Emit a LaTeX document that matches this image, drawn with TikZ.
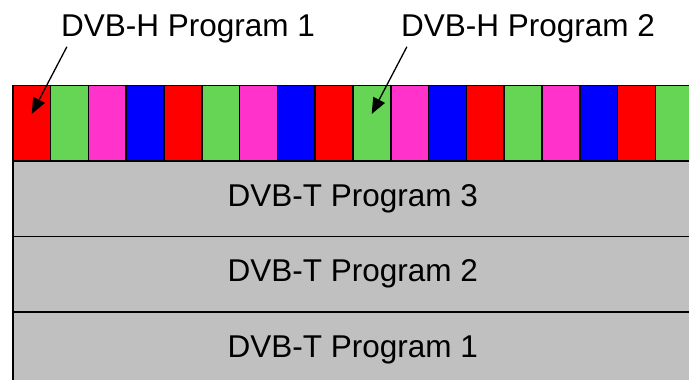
\documentclass[tikz,border=0pt]{standalone}
\usepackage{fontspec}
\setmainfont{Liberation Sans}
\usetikzlibrary{arrows.meta,positioning}
\definecolor{slotred}{HTML}{FF0000}
\definecolor{slotgreen}{HTML}{66D455}
\definecolor{slotpink}{HTML}{FF33CC}
\definecolor{slotblue}{HTML}{0000FF}
\definecolor{bandgray}{HTML}{C0C0C0}

\begin{document}
\begin{tikzpicture}[x=1pt,y=-1pt,>={Triangle[length=16pt,width=13pt]},
    font=\fontsize{31.5}{36}\selectfont,
    slot/.style={draw,line width=1.6pt,minimum width=37.8pt,minimum height=75.5pt,
      inner sep=0pt,anchor=north west},
    band/.style={draw,fill=bandgray,line width=1.6pt,minimum width=680pt,
      minimum height=75.5pt,inner sep=0pt,anchor=north west},
    lbl/.style={inner sep=0pt,anchor=base}]
  \useasboundingbox (0,0) rectangle (689,380);
  \clip (0,0) rectangle (689,380);
  \foreach \k/\n in {0/3,1/2,2/1}
    \node[band] (t\n) at (12,{160+75.5*\k}) {DVB-T Program \n};
  \foreach \i/\c in {0/slotred,1/slotgreen,2/slotpink,3/slotblue,
      4/slotred,5/slotgreen,6/slotpink,7/slotblue,
      8/slotred,9/slotgreen,10/slotpink,11/slotblue,
      12/slotred,13/slotgreen,14/slotpink,15/slotblue,
      16/slotred,17/slotgreen}
    \node[slot,fill=\c] (s\i) at ({12+37.8*\i},84.5) {};
  \node[lbl] (hA) at (188,36) {DVB-H Program 1};
  \node[lbl] (hB) at (528,36) {DVB-H Program 2};
  \coordinate (pA) at (31.7,114);
  \coordinate (pB) at (371.7,114);
  \draw[->,line width=1.3pt] ([shift={(6,4)}]hA.south west) -- (pA);
  \draw[->,line width=1.3pt] ([shift={(6,4)}]hB.south west) -- (pB);
\end{tikzpicture}
\end{document}
